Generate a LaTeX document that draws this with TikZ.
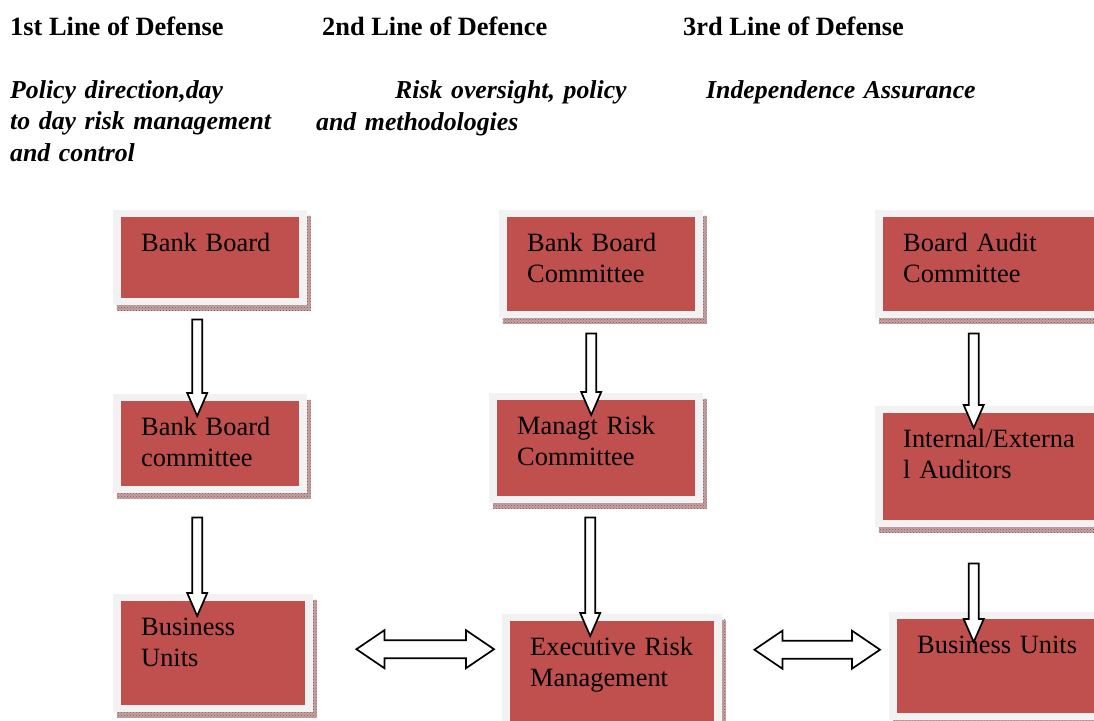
\documentclass[tikz,border=0pt]{standalone}
\usepackage{fontspec}
\setmainfont{Liberation Serif}
\usetikzlibrary{calc,shadows,patterns}

\definecolor{boxred}{HTML}{C0504D}
\definecolor{framegray}{HTML}{F2F2F2}
\definecolor{shadowpink}{HTML}{C4A2A2}
\definecolor{shadowline}{HTML}{8A5555}
\newcommand{\diagfont}{\fontsize{26.4}{31.5}\selectfont}
\newcommand{\descfont}{\fontsize{25.8}{31.5}\selectfont}

\tikzset{
  riskbox/.style={anchor=north west, fill=framegray, inner xsep=28pt, inner ysep=19pt,
    text height=22pt, align=left,
    path picture={\fill[boxred] ([xshift=8pt,yshift=-7pt]path picture bounding box.north west)
      rectangle ([xshift=-8pt,yshift=7pt]path picture bounding box.south east);},
    drop shadow={shadow xshift=3.5pt, shadow yshift=-5.5pt, fill=shadowpink, opacity=1},
    general shadow={shadow xshift=3.5pt, shadow yshift=-5.5pt, pattern=crosshatch dots, pattern color=shadowline}},
  headtext/.style={anchor=base west, inner sep=0pt, font=\diagfont\bfseries},
  desctext/.style={anchor=base west, inner sep=0pt, text width=320pt, align=left, font=\descfont\bfseries\itshape},
  blockarrow/.style={draw=black, fill=white, line width=1.7pt, line join=miter}
}

\newcommand{\blockdown}[2]{%
  \draw[blockarrow] let \p1=#1, \p2=#2 in
    (\x1-5pt,\y1) -- (\x1+5pt,\y1) -- (\x1+5pt,\y2+23pt) -- (\x1+10pt,\y2+23pt)
    -- (\x1,\y2) -- (\x1-10pt,\y2+23pt) -- (\x1-5pt,\y2+23pt) -- cycle;}
\newcommand{\blockboth}[2]{%
  \draw[blockarrow] let \p1=#1, \p2=#2 in
    (\x1,\y1) -- (\x1+28pt,\y1+19pt) -- (\x1+28pt,\y1+9pt) -- (\x2-28pt,\y1+9pt)
    -- (\x2-28pt,\y1+19pt) -- (\x2,\y1) -- (\x2-28pt,\y1-19pt) -- (\x2-28pt,\y1-9pt)
    -- (\x1+28pt,\y1-9pt) -- (\x1+28pt,\y1-19pt) -- cycle;}

\begin{document}
\begin{tikzpicture}[x=1pt,y=-1pt,font=\diagfont]
\useasboundingbox (0,0) rectangle (1094,720);
\clip (0,0) rectangle (1094,720);

\node[headtext] (h1) at (10,35) {1st Line of Defense};
\node[headtext] (h2) at (322,35) {2nd Line of Defence};
\node[headtext] (h3) at (683,35) {3rd Line of Defense};

\node[desctext] (d1) at (10,98) {Policy direction,day\\to day risk management\\and control};
\node[desctext] (d2) at (395,98) {Risk oversight, policy};
\node[desctext] (d2b) at (316,130) {and methodologies};
\node[desctext] (d3) at (706,98) {Independence Assurance};

\node[riskbox, text width=138pt, text depth=35pt] (a1) at (113,210) {Bank Board};
\node[riskbox, text width=138pt, text depth=39pt] (a2) at (113,394) {Bank Board\\committee};
\node[riskbox, text width=144pt, text depth=58pt] (a3) at (113,594) {Business\\Units};

\node[riskbox, text width=148pt, text depth=48pt] (b1) at (499,210) {Bank Board\\Committee};
\node[riskbox, text width=158pt, text depth=50pt] (b2) at (489,393) {Managt Risk\\Committee};
\node[riskbox, text width=164pt, text depth=55pt] (b3) at (502,614) {Executive Risk\\Management};

\node[riskbox, text width=189pt, text depth=48pt] (c1) at (875,210) {Board Audit\\Committee};
\node[riskbox, text width=189pt, text depth=61pt] (c2) at (875,406) {Internal/Externa\\l Auditors};
\node[riskbox, text width=189pt, text depth=48pt] (c3) at (889,612) {Business Units};

\blockdown{($(a1.south)+(-13,14)$)}{($(a2.north)+(0,22)$)}
\blockdown{($(a2.south)+(-13,24)$)}{($(a3.north)+(0,22)$)}
\blockdown{($(b1.south)+(-10,15)$)}{($(b2.north)+(0,22)$)}
\blockdown{($(b2.south)+(-6,14)$)}{($(b3.north)+(0,22)$)}
\blockdown{($(c1.south)+(-24,15)$)}{($(c2.north)+(0,22)$)}
\blockdown{($(c2.south)+(-24,36)$)}{($(c3.north)+(0,30)$)}

\blockboth{($(a3.east)+(43,-4)$)}{($(b3.west)+(-8,0)$)}
\blockboth{($(b3.east)+(32,-22)$)}{($(c3.west)+(-9,0)$)}
\end{tikzpicture}
\end{document}
